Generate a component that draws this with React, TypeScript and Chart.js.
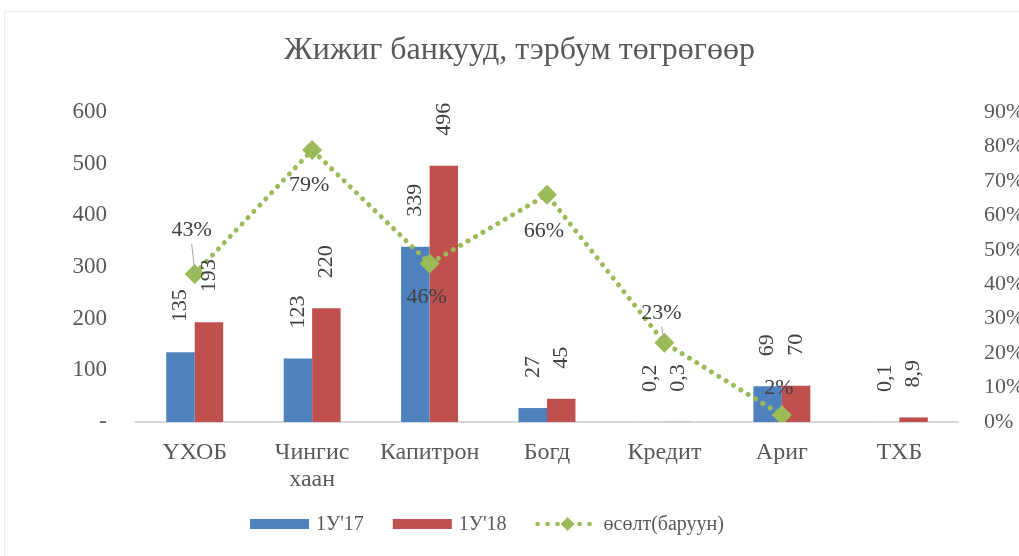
import { useEffect, useRef } from "react";
import { Chart, registerables } from "chart.js";

Chart.register(...registerables);

const chartTitle = "Жижиг банкууд, тэрбум төгрөгөөр";
const categories: (string | string[])[] = ["ҮХОБ", ["Чингис", "хаан"], "Капитрон", "Богд", "Кредит", "Ариг", "ТХБ"];
const seriesNames = ["1У'17", "1У'18", "өсөлт(баруун)"];
const values17 = [135, 123, 339, 27, 0.2, 69, 0.1];
const values18 = [193, 220, 496, 45, 0.3, 70, 8.9];
const growthPct: (number | null)[] = [43, 79, 46, 66, 23, 2, null];
const leftMax = 600;
const leftStep = 100;
const rightMax = 90;
const rightStep = 10;

const FONT = '"Liberation Serif", "Times New Roman", serif';
const BLUE = "#4F81BD";
const RED = "#C0504D";
const GREEN = "#9BBB59";
const TICK = "#595959";
const LABEL = "#404040";

// label placement (style): vertical offset of percent labels from the point
const pctDy = [-44, 35, 34, 37, -30, -27, 0];

const fmt = (v: number) => String(v).replace(".", ",");

const deco = {
  id: "deco",
  beforeDraw(chart: any) {
    const ctx = chart.ctx;
    ctx.save();
    ctx.fillStyle = "#ffffff";
    ctx.fillRect(0, 0, chart.width, chart.height);
    ctx.strokeStyle = "#E9EDF4";
    ctx.lineWidth = 1;
    ctx.strokeRect(4.5, 11.5, chart.width + 10, chart.height + 10);
    ctx.restore();
  },
  afterDatasetsDraw(chart: any) {
    const ctx = chart.ctx;
    ctx.save();
    ctx.fillStyle = LABEL;
    ctx.font = `22px ${FONT}`;
    [0, 1].forEach((di) => {
      const meta = chart.getDatasetMeta(di);
      meta.data.forEach((el: any, i: number) => {
        const v = chart.data.datasets[di].data[i];
        ctx.save();
        ctx.translate(el.x, el.y - 30);
        ctx.rotate(-Math.PI / 2);
        ctx.textAlign = "left";
        ctx.textBaseline = "middle";
        ctx.fillText(fmt(v), 0, 0);
        ctx.restore();
      });
    });
    const lm = chart.getDatasetMeta(2);
    lm.data.forEach((el: any, i: number) => {
      const v = chart.data.datasets[2].data[i];
      if (v === null || v === undefined) return;
      const dy = pctDy[i];
      const ty = el.y + dy;
      ctx.textAlign = "center";
      ctx.textBaseline = "middle";
      ctx.fillStyle = LABEL;
      ctx.fillText(`${v}%`, el.x - 3, ty);
      if (dy < -29) {
        ctx.strokeStyle = "#A6A6A6";
        ctx.lineWidth = 1;
        ctx.beginPath();
        ctx.moveTo(el.x - 3, ty + 14);
        ctx.lineTo(el.x, el.y - 2);
        ctx.stroke();
      }
    });
    ctx.restore();
  },
  afterDraw(chart: any) {
    const ctx = chart.ctx;
    ctx.save();
    // title
    ctx.fillStyle = TICK;
    ctx.font = `32px ${FONT}`;
    ctx.textAlign = "center";
    ctx.textBaseline = "middle";
    ctx.fillText(chartTitle, 519.5, 51);
    // legend
    ctx.font = `20px ${FONT}`;
    ctx.textAlign = "left";
    const ly = 524;
    const boxW = 59;
    const lineW = 56;
    const gap = 7;
    const gapLine = 12;
    const spacing = 29;
    const w0 = boxW + gap + ctx.measureText(seriesNames[0]).width;
    const w1 = boxW + gap + ctx.measureText(seriesNames[1]).width;
    const w2 = lineW + gapLine + ctx.measureText(seriesNames[2]).width;
    let x = 487 - (w0 + w1 + w2 + 2 * spacing) / 2;
    ctx.fillStyle = BLUE;
    ctx.fillRect(x, ly - 5, boxW, 10);
    ctx.fillStyle = TICK;
    ctx.fillText(seriesNames[0], x + boxW + gap, ly + 1);
    x += w0 + spacing;
    ctx.fillStyle = RED;
    ctx.fillRect(x, ly - 5, boxW, 10);
    ctx.fillStyle = TICK;
    ctx.fillText(seriesNames[1], x + boxW + gap, ly + 1);
    x += w1 + spacing;
    ctx.fillStyle = GREEN;
    [2, 12, 22, 44, 54].forEach((dx) => {
      ctx.beginPath();
      ctx.arc(x + dx, ly, 2.3, 0, Math.PI * 2);
      ctx.fill();
    });
    ctx.beginPath();
    ctx.moveTo(x + 32, ly - 7);
    ctx.lineTo(x + 39, ly);
    ctx.lineTo(x + 32, ly + 7);
    ctx.lineTo(x + 25, ly);
    ctx.closePath();
    ctx.fill();
    ctx.fillStyle = TICK;
    ctx.fillText(seriesNames[2], x + lineW + gapLine, ly + 1);
    ctx.restore();
  },
};

export default function App() {
  const ref = useRef<HTMLCanvasElement>(null);
  useEffect(() => {
    document.body.style.margin = "0";
    const chart = new Chart(ref.current!, {
      type: "bar",
      data: {
        labels: categories as any,
        datasets: [
          {
            type: "bar",
            label: seriesNames[0],
            data: values17,
            backgroundColor: BLUE,
            yAxisID: "y",
            order: 1,
            categoryPercentage: 0.485,
            barPercentage: 1,
          },
          {
            type: "bar",
            label: seriesNames[1],
            data: values18,
            backgroundColor: RED,
            yAxisID: "y",
            order: 1,
            categoryPercentage: 0.485,
            barPercentage: 1,
          },
          {
            type: "line",
            label: seriesNames[2],
            data: growthPct as any,
            yAxisID: "y1",
            order: 0,
            borderColor: GREEN,
            borderWidth: 5,
            borderDash: [0.01, 8.6],
            borderCapStyle: "round",
            backgroundColor: GREEN,
            pointStyle: "rectRot",
            pointRadius: 10,
            pointBorderWidth: 0,
            pointBackgroundColor: GREEN,
            spanGaps: false,
            tension: 0,
          } as any,
        ],
      },
      options: {
        animation: false,
        responsive: false,
        maintainAspectRatio: false,
        layout: { padding: { left: 20, right: 0, top: 112, bottom: 0 } },
        plugins: {
          legend: { display: false },
          title: { display: false },
          tooltip: { enabled: false },
        },
        scales: {
          x: {
            grid: { display: false, drawTicks: false },
            border: { display: true, color: "#D9D9D9", width: 2 },
            ticks: {
              color: TICK,
              font: { family: FONT, size: 24, lineHeight: 1.13 },
              padding: 17,
              maxRotation: 0,
              autoSkip: false,
            },
            afterFit(scale: any) {
              scale.height = 134;
            },
          },
          y: {
            position: "left",
            min: 0,
            max: leftMax,
            grid: { display: false, drawTicks: false },
            border: { display: false },
            ticks: {
              stepSize: leftStep,
              color: TICK,
              font: { family: FONT, size: 23 },
              padding: 29,
              callback: (v: any) => (Number(v) === 0 ? "-" : String(v)),
            },
            afterFit(scale: any) {
              scale.width = 116;
            },
          },
          y1: {
            position: "right",
            min: 0,
            max: rightMax,
            grid: { display: false, drawTicks: false },
            border: { display: false },
            ticks: {
              stepSize: rightStep,
              color: TICK,
              font: { family: FONT, size: 22 },
              padding: 26,
              callback: (v: any) => `${v}%`,
            },
            afterFit(scale: any) {
              scale.width = 61;
            },
          },
        },
      },
      plugins: [deco],
    });
    return () => chart.destroy();
  }, []);
  return (
    <div style={{ width: 1019, height: 556 }}>
      <canvas ref={ref} width={1019} height={556} style={{ display: "block" }} />
    </div>
  );
}
